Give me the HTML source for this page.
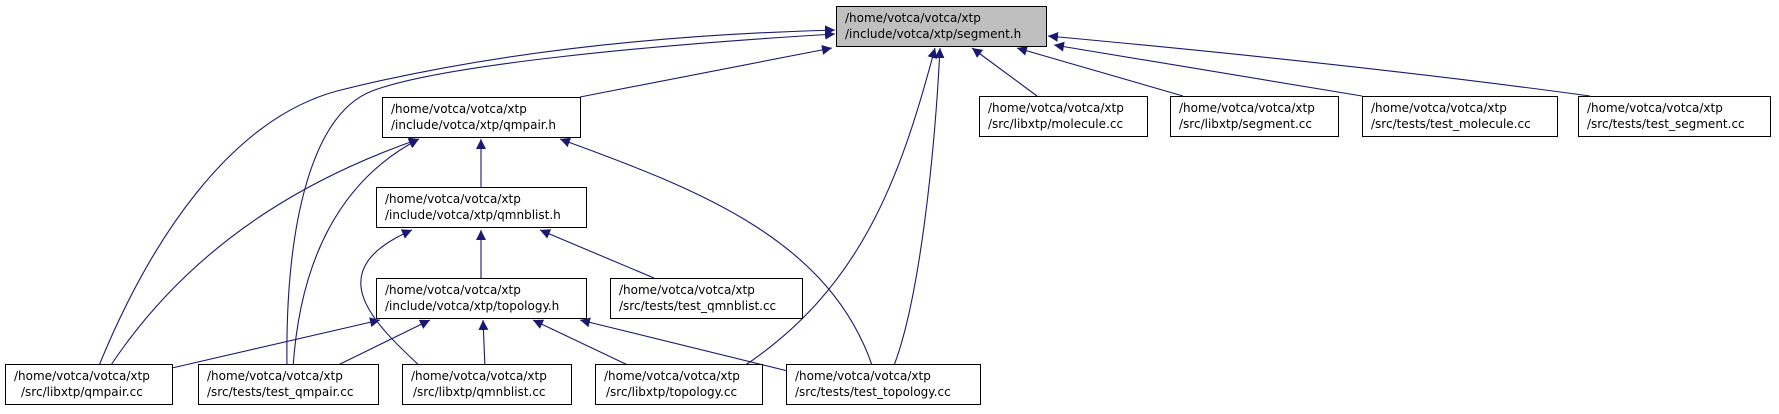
<!DOCTYPE html>
<html><head><meta charset="utf-8"><style>
html,body{margin:0;padding:0;background:#fff;}
svg text{font-family:"DejaVu Sans","Liberation Sans",sans-serif;font-size:12px;fill:#000;}
</style></head><body>
<svg width="1779" height="409" viewBox="0 0 1779 409" xmlns="http://www.w3.org/2000/svg">
<defs>
<marker id="a" viewBox="0 0 10 10" refX="10" refY="5" markerWidth="10" markerHeight="10" markerUnits="userSpaceOnUse" orient="auto">
<path d="M0,0 L10,5 L0,10 z" fill="#191970"/>
</marker>
</defs>
<g fill="none" stroke="#191970" stroke-width="1.1" marker-end="url(#a)">
<path d="M98,368 C150,240 230,120 337,91 C480,55 650,35 835,30"/>
<path d="M287,368 C285,230 310,115 372,91 C440,65 650,45 835,34"/>
<path d="M580,97 L832,48"/>
<path d="M109,368 C200,230 330,170 419,139"/>
<path d="M293,368 C300,260 340,180 419,139"/>
<path d="M873,368 C830,240 700,190 560,139"/>
<path d="M481,187 L481,139"/>
<path d="M481,278 L481,230"/>
<path d="M654,278 L540,230"/>
<path d="M422,368 C370,320 320,270 412,230"/>
<path d="M172,368 L380,320"/>
<path d="M332,368 L430,320"/>
<path d="M485,368 L483,320"/>
<path d="M634,368 L533,320"/>
<path d="M792,372 L580,320"/>
<path d="M741,368 C860,290 900,180 935,48"/>
<path d="M893,368 C920,300 935,150 940,48"/>
<path d="M1037,96 L972,48"/>
<path d="M1183,96 L1017,48"/>
<path d="M1362,96 L1054,45"/>
<path d="M1590,96 C1400,70 1200,50 1048,36"/>
</g>
<g stroke="#000" stroke-width="1">
<rect x="836.5" y="6.5" width="210" height="40" fill="#bfbfbf"/>
<rect x="382.5" y="97.5" width="198" height="40" fill="#fff"/>
<rect x="979.5" y="96.5" width="168" height="40" fill="#fff"/>
<rect x="1170.5" y="96.5" width="168" height="40" fill="#fff"/>
<rect x="1362.5" y="96.5" width="195" height="40" fill="#fff"/>
<rect x="1578.5" y="96.5" width="192" height="40" fill="#fff"/>
<rect x="376.5" y="187.5" width="210" height="40" fill="#fff"/>
<rect x="376.5" y="278.5" width="210" height="40" fill="#fff"/>
<rect x="610.5" y="278.5" width="192" height="40" fill="#fff"/>
<rect x="5.5" y="364.5" width="167" height="40" fill="#fff"/>
<rect x="198.5" y="364.5" width="180" height="40" fill="#fff"/>
<rect x="402.5" y="364.5" width="169" height="40" fill="#fff"/>
<rect x="595.5" y="364.5" width="167" height="40" fill="#fff"/>
<rect x="786.5" y="364.5" width="194" height="40" fill="#fff"/>
</g>
<g>
<text x="845" y="22">/home/votca/votca/xtp</text><text x="845" y="38">/include/votca/xtp/segment.h</text>
<text x="391" y="113">/home/votca/votca/xtp</text><text x="391" y="129">/include/votca/xtp/qmpair.h</text>
<text x="988" y="112">/home/votca/votca/xtp</text><text x="988" y="128">/src/libxtp/molecule.cc</text>
<text x="1179" y="112">/home/votca/votca/xtp</text><text x="1179" y="128">/src/libxtp/segment.cc</text>
<text x="1371" y="112">/home/votca/votca/xtp</text><text x="1371" y="128">/src/tests/test_molecule.cc</text>
<text x="1587" y="112">/home/votca/votca/xtp</text><text x="1587" y="128">/src/tests/test_segment.cc</text>
<text x="385" y="203">/home/votca/votca/xtp</text><text x="385" y="219">/include/votca/xtp/qmnblist.h</text>
<text x="385" y="294">/home/votca/votca/xtp</text><text x="385" y="310">/include/votca/xtp/topology.h</text>
<text x="619" y="294">/home/votca/votca/xtp</text><text x="619" y="310">/src/tests/test_qmnblist.cc</text>
<text x="14" y="380">/home/votca/votca/xtp</text><text x="21" y="396">/src/libxtp/qmpair.cc</text>
<text x="207" y="380">/home/votca/votca/xtp</text><text x="207" y="396">/src/tests/test_qmpair.cc</text>
<text x="411" y="380">/home/votca/votca/xtp</text><text x="413" y="396">/src/libxtp/qmnblist.cc</text>
<text x="604" y="380">/home/votca/votca/xtp</text><text x="606" y="396">/src/libxtp/topology.cc</text>
<text x="795" y="380">/home/votca/votca/xtp</text><text x="795" y="396">/src/tests/test_topology.cc</text>
</g>
</svg>
</body></html>
